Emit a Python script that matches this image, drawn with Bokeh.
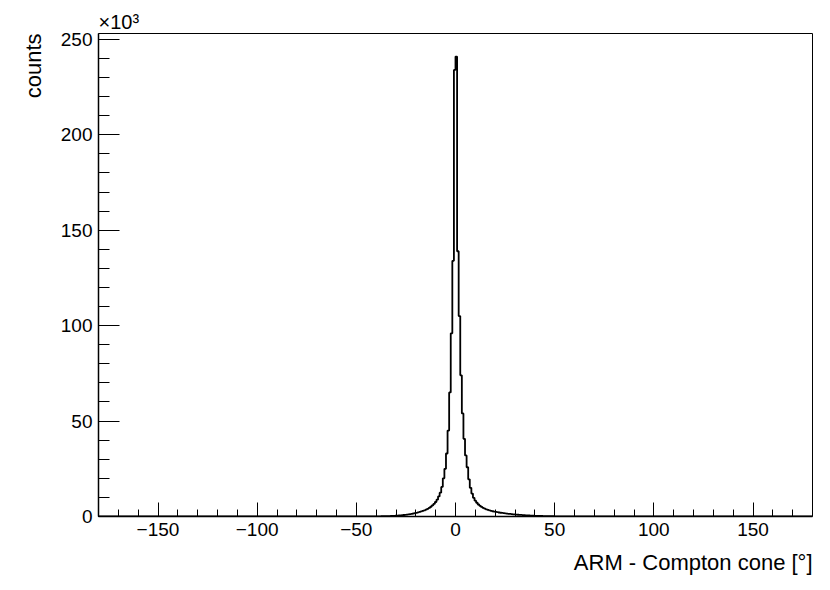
import numpy as np
from bokeh.plotting import figure
from bokeh.models import FixedTicker, Range1d, Title
from bokeh.embed import file_html
from bokeh.resources import INLINE

# ---------------- data (counts in units of 10^3) ----------------
x_min, x_max = -180.0, 180.0
bin_width = 0.8
# bins to the right of 0 (bin centres 0.4, 1.2, 2.0, ...)
right_counts_k = [241, 139, 105, 74, 54, 40.7, 32, 25.8, 19.5, 15.0, 12.0, 9.8,
                  8.3, 7.2, 6.3, 5.6, 5.0, 4.5, 4.1, 3.75, 3.45, 3.2, 2.95, 2.75,
                  2.55, 2.4, 2.25, 2.1, 1.97, 1.85, 1.73, 1.62, 1.52, 1.42, 1.33,
                  1.24, 1.16, 1.08, 1.0, 0.93, 0.86, 0.8, 0.74, 0.68, 0.63, 0.58,
                  0.53, 0.49, 0.45, 0.41, 0.37, 0.34, 0.31, 0.28, 0.25, 0.23, 0.21,
                  0.19, 0.17, 0.15, 0.13, 0.12, 0.11, 0.1, 0.09, 0.08, 0.07, 0.06,
                  0.05, 0.04]
# bins to the left of 0 (bin centres -0.4, -1.2, -2.0, ...)
left_counts_k = [234, 134, 96, 65, 45, 33, 25, 20, 15.5, 12.5, 10.5, 8.8, 7.6,
                 6.6, 5.8, 5.1, 4.5, 4.0, 3.6, 3.25, 2.95, 2.65, 2.4, 2.15, 1.95,
                 1.75, 1.58, 1.42, 1.27, 1.13, 1.0, 0.89, 0.79, 0.7, 0.62, 0.55,
                 0.48, 0.42, 0.37, 0.32, 0.28, 0.24, 0.21, 0.18, 0.16, 0.14, 0.12,
                 0.1, 0.08, 0.06]

x_ticks = [-150, -100, -50, 0, 50, 100, 150]
x_tick_labels = ["\u2212150", "\u2212100", "\u221250", "0", "50", "100", "150"]
x_minor_ticks = list(range(-170, 180, 10))
y_ticks = [0, 50, 100, 150, 200, 250]
y_tick_labels = ["0", "50", "100", "150", "200", "250"]
y_minor_ticks = list(range(0, 260, 10))
y_max = 253.1

x_title = "ARM - Compton cone [\u00b0]"
y_title = "counts"
y_multiplier = "\u00d710\u00b3"

# ---------------- histogram arrays ----------------
n_bins = int(round((x_max - x_min) / bin_width))
edges = np.linspace(x_min, x_max, n_bins + 1)
counts = np.zeros(n_bins)
zi = int(round((0 - x_min) / bin_width))
counts[zi:zi + len(right_counts_k)] = right_counts_k
counts[zi - len(left_counts_k):zi] = left_counts_k[::-1]

FONT = "Liberation Sans"

p = figure(frame_width=714, frame_height=483,
           x_range=Range1d(x_min, x_max), y_range=Range1d(0, y_max),
           output_backend="svg", toolbar_location=None,
           min_border_left=98, min_border_right=16,
           min_border_top=33, min_border_bottom=74)
p.background_fill_color = "white"
p.border_fill_color = "white"
p.grid.visible = False
p.outline_line_color = "black"
p.outline_line_width = 1

p.step(x=edges, y=np.append(counts, counts[-1]), mode="after",
       line_color="black", line_width=1.8)

xa = p.xaxis[0]
xa.ticker = FixedTicker(ticks=x_ticks, minor_ticks=x_minor_ticks)
xa.major_label_overrides = {t: l for t, l in zip(x_ticks, x_tick_labels)}
xa.major_tick_in = 14
xa.major_tick_out = 0
xa.minor_tick_in = 7
xa.minor_tick_out = 0
xa.major_label_standoff = 6
xa.axis_line_width = 1.5
xa.major_tick_line_width = 1
xa.minor_tick_line_width = 1
xa.major_label_text_font = FONT
xa.major_label_text_font_size = "19px"
xa.major_label_text_color = "black"

ya = p.yaxis[0]
ya.ticker = FixedTicker(ticks=y_ticks, minor_ticks=y_minor_ticks)
ya.major_label_overrides = {t: l for t, l in zip(y_ticks, y_tick_labels)}
ya.major_tick_in = 21
ya.major_tick_out = 0
ya.minor_tick_in = 11
ya.minor_tick_out = 0
ya.major_label_standoff = 6
ya.axis_line_width = 1.5
ya.major_tick_line_width = 1
ya.minor_tick_line_width = 1
ya.major_label_text_font = FONT
ya.major_label_text_font_size = "19px"
ya.major_label_text_color = "black"

p.add_layout(Title(text=x_title, align="right", standoff=19,
                   text_font=FONT, text_font_size="22px",
                   text_font_style="normal", text_color="black"), "below")
p.add_layout(Title(text=y_title, align="right", standoff=24,
                   text_font=FONT, text_font_size="22px",
                   text_font_style="normal", text_color="black"), "left")
p.add_layout(Title(text=y_multiplier, align="left", standoff=2,
                   text_font=FONT, text_font_size="20px",
                   text_font_style="normal", text_color="black"), "above")

open("out.html", "w").write(file_html(p, INLINE))
